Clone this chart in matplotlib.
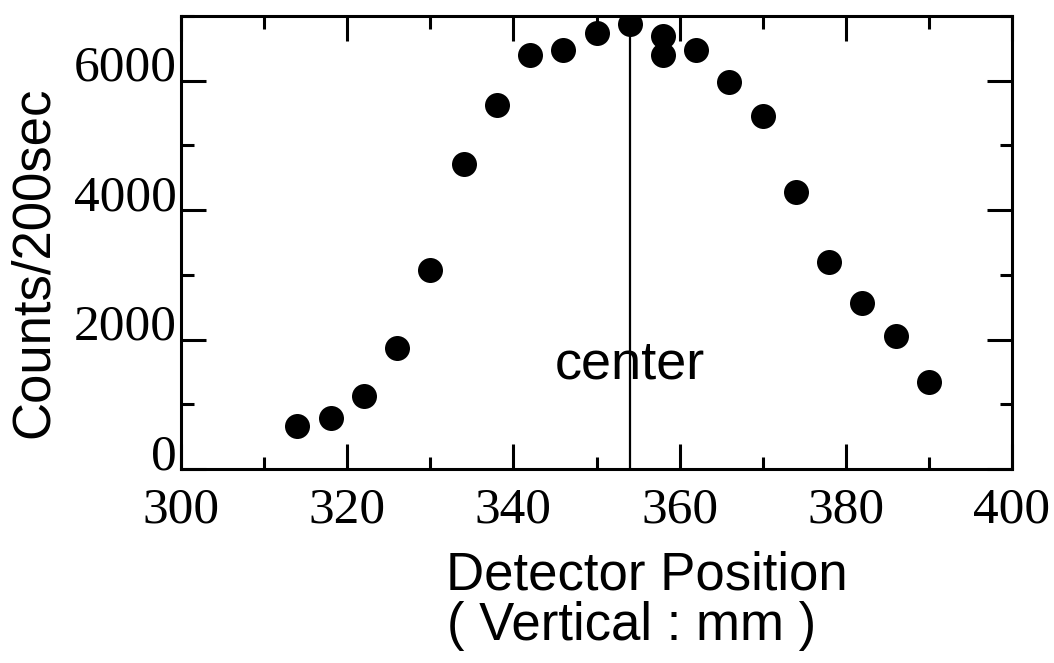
import matplotlib
matplotlib.use("Agg")
import matplotlib.pyplot as plt
from matplotlib.ticker import MultipleLocator

# detector scan
position_mm = [314, 318, 322, 326, 330, 334, 338, 342, 346, 350, 354,
               358, 358, 362, 366, 370, 374, 378, 382, 386, 390]
counts = [670, 790, 1130, 1870, 3070, 4720, 5630, 6400, 6470, 6730, 6880,
          6690, 6400, 6470, 5980, 5460, 4280, 3200, 2570, 2060, 1340]
center_mm = 354

x_ticks = [300, 320, 340, 360, 380, 400]
y_ticks = [0, 2000, 4000, 6000]

SANS = "Liberation Sans"
SERIF = "Liberation Serif"

fig = plt.figure(figsize=(10.54, 6.63), dpi=100)
ax = fig.add_axes([0.1717, 0.2926, 0.9602 - 0.1717, 0.9759 - 0.2926])

ax.plot(position_mm, counts, "o", color="black", ms=18, mew=0)
ax.axvline(center_mm, color="black", lw=1.6)
ax.text(center_mm, 1400, "center", ha="center", va="baseline",
        family=SANS, fontsize=39)

ax.set_xlim(300, 400)
ax.set_ylim(0, 7000)
ax.set_xticks(x_ticks)
ax.set_yticks(y_ticks)
ax.xaxis.set_minor_locator(MultipleLocator(10))
ax.yaxis.set_minor_locator(MultipleLocator(1000))

for s in ax.spines.values():
    s.set_linewidth(2.2)
ax.tick_params(which="both", direction="in", top=True, right=True, width=2.2)
ax.tick_params(which="major", length=18)
ax.tick_params(which="minor", length=9)
ax.tick_params(axis="x", which="major", pad=13)
ax.tick_params(axis="y", which="major", pad=3)

for lab in ax.get_xticklabels() + ax.get_yticklabels():
    lab.set_family(SERIF)
    lab.set_fontsize(37)
for lab in ax.get_yticklabels():
    lab.set_va("baseline")

fig.text(34 / 1054, 1 - 262 / 663, "Counts/200sec", rotation=90,
         ha="center", va="center", family=SANS, fontsize=38)
fig.text(647 / 1054, 1 - 590 / 663, "Detector Position", ha="center",
         va="baseline", family=SANS, fontsize=38)
fig.text(632 / 1054, 1 - 640 / 663, "( Vertical : mm )", ha="center",
         va="baseline", family=SANS, fontsize=38)

fig.savefig("out.png", dpi=100)
